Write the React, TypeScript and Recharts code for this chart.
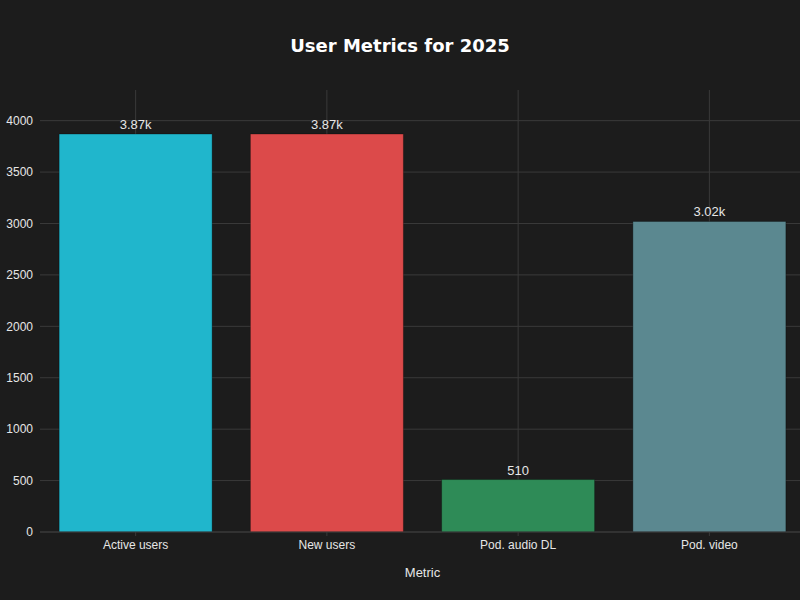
import { Bar, BarChart, CartesianGrid, Cell, LabelList, XAxis, YAxis } from 'recharts';

const METRICS = ['Active users', 'New users', 'Pod. audio DL', 'Pod. video'];
const USERS_2025 = [3870, 3870, 510, 3020];
const BAR_COLORS = ['#20b6cc', '#dc4a4a', '#2e8b57', '#5b8890'];
const Y_TICKS = [0, 500, 1000, 1500, 2000, 2500, 3000, 3500, 4000];

const BG = '#1c1c1c';
const GRID = '#3a3a3a';
const TEXT = '#e6e6e6';
const FONT = '"Liberation Sans", Arial, sans-serif';

const rows = METRICS.map((metric, i) => ({ metric, value: USERS_2025[i] }));

// 3870 -> "3.87k", 510 -> "510"
function shortNum(v: number) {
  return v >= 1000 ? `${(v / 1000).toFixed(2)}k` : String(v);
}

export default function App() {
  return (
    <div
      style={{
        position: 'fixed',
        left: 0,
        top: 0,
        width: 800,
        height: 600,
        overflow: 'hidden',
        background: BG,
        fontFamily: FONT,
      }}
    >
      <div
        style={{
          position: 'absolute',
          top: 35,
          width: 800,
          textAlign: 'center',
          color: '#ffffff',
          fontFamily: '"DejaVu Sans", sans-serif',
          fontWeight: 'bold',
          fontSize: 18,
        }}
      >
        User Metrics for 2025
      </div>
      <BarChart
        width={810}
        height={600}
        data={rows}
        margin={{ top: 90, right: 5, bottom: 18, left: 0 }}
        barCategoryGap="10%"
      >
        {/* syncWithTicks: only lines at ticks, no frame at the plot edges */}
        <CartesianGrid stroke={GRID} strokeWidth={1} syncWithTicks />
        <XAxis
          dataKey="metric"
          height={50}
          stroke={GRID}
          tickSize={4}
          tickMargin={4}
          tick={{ fill: TEXT, fontSize: 12, fontFamily: FONT }}
          label={{
            value: 'Metric',
            position: 'insideBottom',
            offset: 5,
            fill: TEXT,
            fontSize: 13,
            fontFamily: FONT,
          }}
        />
        <YAxis
          width={40}
          domain={[0, 4298]}
          ticks={Y_TICKS}
          axisLine={false}
          tickLine={false}
          tickSize={0}
          tickMargin={7}
          tick={{ fill: TEXT, fontSize: 12, fontFamily: FONT }}
        />
        <Bar dataKey="value" isAnimationActive={false} stroke="rgba(0,0,0,0.3)" strokeWidth={1}>
          {rows.map((r, i) => (
            <Cell key={r.metric} fill={BAR_COLORS[i]} />
          ))}
          <LabelList
            dataKey="value"
            position="top"
            offset={5}
            formatter={(v: any) => shortNum(Number(v))}
            fill={TEXT}
            fontSize={13}
            fontFamily={FONT}
          />
        </Bar>
      </BarChart>
    </div>
  );
}
